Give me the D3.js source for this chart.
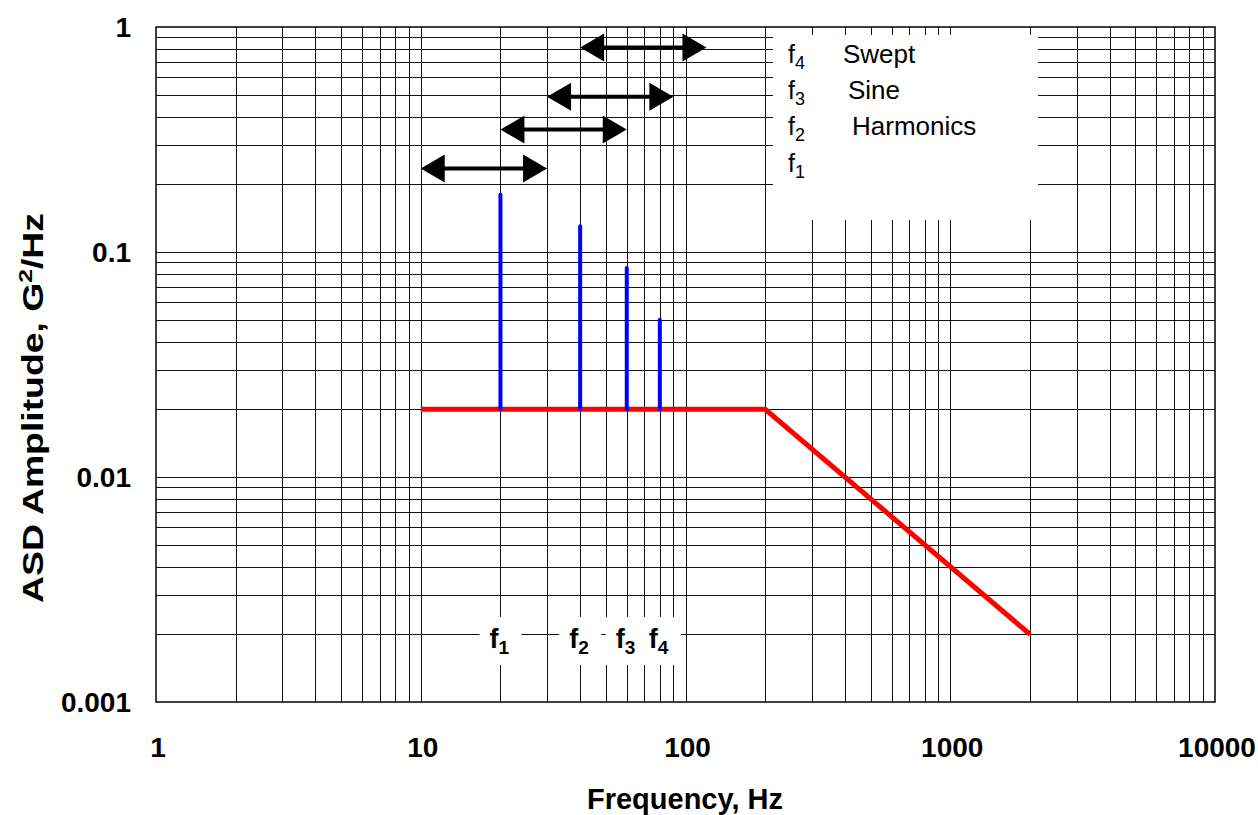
<!DOCTYPE html>
<html>
<head>
<meta charset="utf-8">
<script src="https://cdn.jsdelivr.net/npm/d3@7"></script>
<style>
  html, body { margin: 0; padding: 0; background: #fff; }
  svg { display: block; font-family: "Liberation Sans", Arial, sans-serif; }
</style>
</head>
<body>
<svg id="chart" width="1258" height="815"></svg>
<script>
// Axis ticks
const xTickValues = [1, 10, 100, 1000, 10000];
const xTickLabels = ["1", "10", "100", "1000", "10000"];
const yTickValues = [1, 0.1, 0.01, 0.001];
const yTickLabels = ["1", "0.1", "0.01", "0.001"];

// Random vibration base profile (ASD, G^2/Hz)
const profileFreq = [10, 200, 2000];
const profileASD = [0.02, 0.02, 0.002];

// Sine harmonics superimposed on the random floor
const harmonicFreq = [20, 40, 60, 80];
const harmonicPeak = [0.18, 0.13, 0.085, 0.05];
const harmonicIndex = ["1", "2", "3", "4"];

// Sweep ranges of each harmonic
const sweepStart = [10, 20, 30, 40];
const sweepEnd = [30, 60, 90, 120];
const sweepLevel = [0.235, 0.35, 0.49, 0.81];

// Legend rows (top to bottom)
const legendIndex = ["4", "3", "2", "1"];
const legendWords = ["Swept", "Sine", "Harmonics", ""];

const svg = d3.select("#chart");
const plot = { left: 156, right: 1215, top: 27, bottom: 702 };

const x = d3.scaleLog().domain([1, 10000]).range([plot.left, plot.right]);
const y = d3.scaleLog().domain([0.001, 1]).range([plot.bottom, plot.top]);

// Grid: every 1..9 multiple inside each decade
const xGrid = [], yGrid = [];
for (let d = 1; d < 10000; d *= 10) for (let m = 1; m < 10; m++) xGrid.push(d * m);
for (let d = 0.001; d < 0.999; d *= 10) for (let m = 1; m < 10; m++) yGrid.push(d * m);

const grid = svg.append("g").attr("stroke", "#111").attr("stroke-width", 1);
grid.selectAll("line.v").data(xGrid.slice(1)).join("line")
  .attr("x1", d => Math.round(x(d)) + 0.5).attr("x2", d => Math.round(x(d)) + 0.5)
  .attr("y1", plot.top).attr("y2", plot.bottom);
grid.selectAll("line.h").data(yGrid.slice(1)).join("line")
  .attr("y1", d => Math.round(y(d)) + 0.5).attr("y2", d => Math.round(y(d)) + 0.5)
  .attr("x1", plot.left).attr("x2", plot.right);

// Legend panel (covers grid)
const legend = svg.append("g");
legend.append("rect").attr("x", 773).attr("y", 35).attr("width", 265).attr("height", 185).attr("fill", "#fff");
const rowY = [63, 99, 135, 172];
const wordX = [843, 848, 852, 852];
legendIndex.forEach((idx, i) => {
  const t = legend.append("text").attr("x", 788).attr("y", rowY[i]).attr("font-size", 25).attr("fill", "#000");
  t.append("tspan").text("f");
  t.append("tspan").attr("font-size", 18).attr("dy", 6).text(idx);
  legend.append("text").attr("x", wordX[i]).attr("y", rowY[i]).attr("font-size", 26).attr("fill", "#000").text(legendWords[i]);
});

// Harmonic labels at the bottom
const labels = svg.append("g");
labels.selectAll("rect").data(harmonicFreq).join("rect")
  .attr("x", d => x(d) - 21).attr("y", 617).attr("width", 42).attr("height", 48).attr("fill", "#fff");
harmonicFreq.forEach((f, i) => {
  const t = labels.append("text").attr("x", x(f) - 11).attr("y", 648)
    .attr("font-size", 27).attr("font-weight", "bold").attr("fill", "#000");
  t.append("tspan").text("f");
  t.append("tspan").attr("font-size", 19).attr("dy", 6).text(harmonicIndex[i]);
});

// Plot frame
svg.append("rect").attr("x", plot.left).attr("y", plot.top)
  .attr("width", plot.right - plot.left).attr("height", plot.bottom - plot.top)
  .attr("fill", "none").attr("stroke", "#000").attr("stroke-width", 1.5);

// Random profile
const line = d3.line().x((d, i) => x(profileFreq[i])).y(d => y(d));
svg.append("path").datum(profileASD).attr("d", line)
  .attr("fill", "none").attr("stroke", "#ff0000").attr("stroke-width", 5).attr("stroke-linejoin", "miter");

// Sine harmonic spikes
svg.append("g").selectAll("line").data(harmonicFreq).join("line")
  .attr("x1", d => x(d)).attr("x2", d => x(d))
  .attr("y1", (d, i) => y(harmonicPeak[i])).attr("y2", y(profileASD[0]))
  .attr("stroke", "#0000ff").attr("stroke-width", 4).attr("stroke-linecap", "round");

// Sweep range arrows
const head = 24, half = 14;
const arrows = svg.append("g").attr("fill", "#000");
sweepStart.forEach((s, i) => {
  const x0 = x(s), x1 = x(sweepEnd[i]), yy = y(sweepLevel[i]);
  arrows.append("line").attr("x1", x0 + head - 2).attr("x2", x1 - head + 2)
    .attr("y1", yy).attr("y2", yy).attr("stroke", "#000").attr("stroke-width", 4);
  arrows.append("path").attr("d", `M${x0},${yy}L${x0 + head},${yy - half}L${x0 + head},${yy + half}Z`);
  arrows.append("path").attr("d", `M${x1},${yy}L${x1 - head},${yy - half}L${x1 - head},${yy + half}Z`);
});

// Tick labels
svg.append("g").selectAll("text").data(xTickValues).join("text")
  .attr("x", d => x(d) + 2).attr("y", 757).attr("text-anchor", "middle")
  .attr("font-size", 28).attr("font-weight", "bold").text((d, i) => xTickLabels[i]);
svg.append("g").selectAll("text").data(yTickValues).join("text")
  .attr("x", 131).attr("y", d => y(d) + 10).attr("text-anchor", "end")
  .attr("font-size", 28).attr("font-weight", "bold").text((d, i) => yTickLabels[i]);

// Axis titles
svg.append("text").attr("x", 685).attr("y", 809).attr("text-anchor", "middle")
  .attr("font-size", 29).attr("font-weight", "bold").text("Frequency, Hz");

// Vertical title, stretched along its baseline to span 390px
const ytG = svg.append("g");
const yt = ytG.append("text").attr("text-anchor", "middle").attr("font-size", 29).attr("font-weight", "bold");
yt.append("tspan").text("ASD Amplitude,  G");
yt.append("tspan").attr("font-size", 19).attr("dy", -11).text("2");
yt.append("tspan").attr("dy", 11).text("/Hz");
const ytWidth = yt.node().getBBox().width;
ytG.attr("transform", `translate(43,408) rotate(-90) scale(${390 / ytWidth},1)`);
</script>
</body>
</html>
